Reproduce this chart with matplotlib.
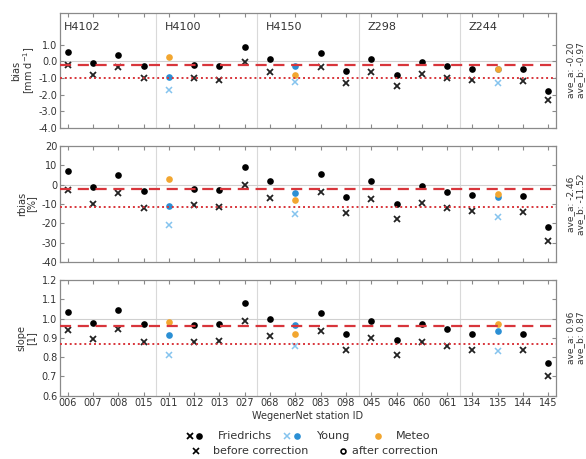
import numpy as np
import matplotlib
matplotlib.use("Agg")
import matplotlib.pyplot as plt

# Station IDs along the x axis and their group names
stations = ['006', '007', '008', '015', '011', '012', '013', '027', '068', '082',
            '083', '098', '045', '046', '060', '061', '134', '135', '144', '145']
groups = ['H4102', 'H4100', 'H4150', 'Z298', 'Z244']
group_start = [0, 4, 8, 12, 16]

nan = np.nan
# Friedrichs sensors (nan where the station has Young / Meteo sensors)
bias_fr_after = [0.54, -0.10, 0.40, -0.30, nan, -0.20, -0.30, 0.88, 0.16, nan,
                 0.50, -0.60, 0.14, -0.82, -0.06, -0.30, -0.44, nan, -0.48, -1.76]
bias_fr_before = [-0.24, -0.82, -0.36, -1.00, nan, -1.02, -1.12, -0.04, -0.62, nan,
                  -0.36, -1.32, -0.62, -1.48, -0.76, -1.02, -1.14, nan, -1.18, -2.30]
rbias_fr_after = [6.9, -1.4, 5.2, -3.3, nan, -2.1, -2.9, 9.3, 2.1, nan,
                  5.7, -6.2, 1.7, -9.8, -0.9, -3.6, -5.2, nan, -5.7, -21.9]
rbias_fr_before = [-2.8, -10.0, -4.3, -11.9, nan, -10.5, -11.7, -0.2, -7.1, nan,
                   -3.6, -14.7, -7.2, -17.9, -9.5, -12.2, -13.8, nan, -14.0, -29.0]
slope_fr_after = [1.033, 0.979, 1.043, 0.969, nan, 0.965, 0.971, 1.083, 1.000, nan,
                  1.026, 0.922, 0.988, 0.887, 0.969, 0.943, 0.922, nan, 0.917, 0.768]
slope_fr_before = [0.939, 0.893, 0.948, 0.880, nan, 0.879, 0.882, 0.986, 0.910, nan,
                   0.934, 0.839, 0.899, 0.809, 0.879, 0.858, 0.839, nan, 0.834, 0.699]

# Young and Meteo sensors at stations 011, 082, 135
other_stations = ['011', '082', '135']
bias_young_after = [-0.94, -0.30, -0.47]
bias_young_before = [-1.72, -1.26, -1.30]
bias_meteo = [0.26, -0.80, -0.44]
rbias_young_after = [-11.0, -4.1, -6.2]
rbias_young_before = [-21.0, -15.0, -16.7]
rbias_meteo = [2.9, -8.1, -4.7]
slope_young_after = [0.912, 0.967, 0.934]
slope_young_before = [0.811, 0.856, 0.830]
slope_meteo = [0.984, 0.922, 0.974]

ave_a = [-0.20, -2.46, 0.96]
ave_b = [-0.97, -11.52, 0.87]

c_red = '#d8353b'
c_young = '#2b8fd4'
c_young_b = '#85c4ee'
c_meteo = '#f2a630'
c_text = '#333333'
c_frame = '#8a8a8a'

plt.rcParams['font.family'] = 'DejaVu Sans'
fig = plt.figure(figsize=(5.86, 4.59), dpi=100)

left, width = 0.1024, 0.8464
boxes = [(0.7211, 0.2506), (0.4292, 0.2527), (0.1383, 0.2517)]

panels = [
    (bias_fr_after, bias_fr_before, bias_young_after, bias_young_before, bias_meteo,
     (-4, 2.9), [-4, -3, -2, -1, 0, 1], 'bias\n[mm d$^{-1}$]', '%.1f', 0.0),
    (rbias_fr_after, rbias_fr_before, rbias_young_after, rbias_young_before, rbias_meteo,
     (-40, 20), [-40, -30, -20, -10, 0, 10, 20], 'rbias\n[%]', '%d', 0.0),
    (slope_fr_after, slope_fr_before, slope_young_after, slope_young_before, slope_meteo,
     (0.6, 1.2), [0.6, 0.7, 0.8, 0.9, 1.0, 1.1, 1.2], 'slope\n[1]', '%.1f', 1.0),
]

x = np.arange(len(stations))
xo = [stations.index(s) for s in other_stations]

for i, (fa, fb, ya, yb, me, ylim, yt, ylab, fmt, ref) in enumerate(panels):
    bottom, height = boxes[i]
    ax = fig.add_axes([left, bottom, width, height])
    ax.set_xlim(-0.3, len(stations) - 0.7)
    ax.set_ylim(*ylim)

    # station group separators and reference line
    for g in group_start[1:]:
        ax.axvline(g - 0.5, color='#d9d9d9', lw=0.8, zorder=0)
    ax.axhline(ref, color='#d0d0d0', lw=0.8, zorder=0)

    ax.plot(x, fb, 'x', color='#222222', ms=4.5, mew=1.3, zorder=2)
    ax.plot(x, fa, 'o', color='black', ms=4.8, mec='none', zorder=2)
    ax.plot(xo, yb, 'x', color=c_young_b, ms=4.5, mew=1.1, zorder=2)
    ax.plot(xo, ya, 'o', color=c_young, ms=4.8, mec='none', zorder=2)
    ax.plot(xo, me, 'o', color=c_meteo, ms=4.8, mec='none', zorder=2)

    # averages after (dashed) and before (dotted) correction
    ax.axhline(ave_a[i], color=c_red, lw=1.6, ls=(0, (5, 3)), zorder=3)
    ax.axhline(ave_b[i], color=c_red, lw=1.4, ls=(0, (1, 1.5)), zorder=3)

    ax.set_yticks(yt)
    ax.set_yticklabels([fmt % v for v in yt])
    ax.set_xticks(x)
    if i == 2:
        ax.set_xticklabels(stations)
        ax.set_xlabel('WegenerNet station ID', fontsize=7, color=c_text, labelpad=2)
    else:
        ax.set_xticklabels([])
    ax.tick_params(direction='in', top=True, right=True, length=3, width=0.8,
                   color=c_frame, labelsize=7, labelcolor=c_text, pad=2)
    for sp in ax.spines.values():
        sp.set_color(c_frame)
        sp.set_linewidth(0.9)
    ax.set_ylabel(ylab, fontsize=7, color=c_text, linespacing=1.0)
    ax.yaxis.set_label_coords(-0.047, 0.5)

    if i == 0:
        for g, s in zip(groups, group_start):
            ax.text(s - 0.15, 2.05, g, fontsize=8, color=c_text, va='center', ha='left')

    ax.text(1.029, 0.5, 'ave_a: %.2f' % ave_a[i], transform=ax.transAxes, rotation=90,
            fontsize=6.5, color=c_text, ha='center', va='center')
    ax.text(1.049, 0.5, 'ave_b: %.2f' % ave_b[i], transform=ax.transAxes, rotation=90,
            fontsize=6.5, color=c_text, ha='center', va='center')

# legend drawn under the plot
lax = fig.add_axes([0, 0, 1, 0.08])
lax.set_xlim(0, 586)
lax.set_ylim(0, 0.08 * 459)
lax.axis('off')
y1 = 459 - 436
y2 = 459 - 451
lax.plot([190], [y1], 'x', color='black', ms=4.5, mew=1.3)
lax.plot([199], [y1], 'o', color='black', ms=4.8, mec='none')
lax.text(218, y1, 'Friedrichs', fontsize=8, color=c_text, va='center')
lax.plot([287], [y1], 'x', color=c_young_b, ms=4.5, mew=1.1)
lax.plot([297], [y1], 'o', color=c_young, ms=4.8, mec='none')
lax.text(317, y1, 'Young', fontsize=8, color=c_text, va='center')
lax.plot([378], [y1], 'o', color=c_meteo, ms=4.8, mec='none')
lax.text(396, y1, 'Meteo', fontsize=8, color=c_text, va='center')
lax.plot([196], [y2], 'x', color='black', ms=4, mew=1.2)
lax.text(213, y2, 'before correction', fontsize=8, color=c_text, va='center')
lax.plot([343], [y2], 'o', mfc='none', mec='black', ms=3.5, mew=1.2)
lax.text(352, y2, 'after correction', fontsize=8, color=c_text, va='center')

fig.savefig('out.png', dpi=100)
